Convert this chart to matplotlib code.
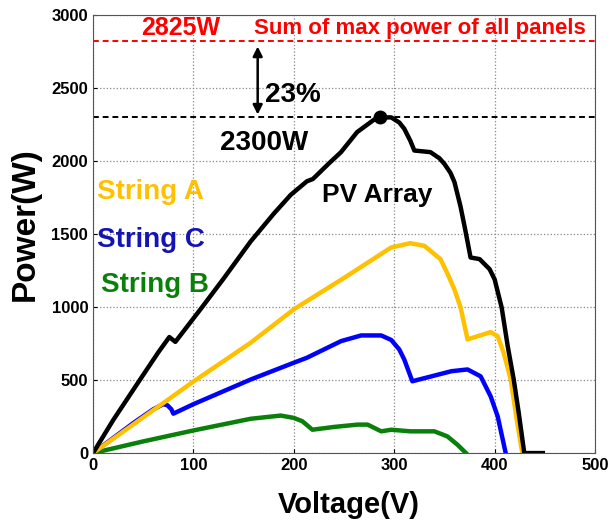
import numpy as np
import matplotlib
matplotlib.use("Agg")
import matplotlib.pyplot as plt

plt.rcParams['font.family'] = ['Liberation Sans Narrow', 'Liberation Sans', 'DejaVu Sans']
plt.rcParams['font.weight'] = 'bold'

# P-V curves
v_array = [0, 20, 47, 65, 76, 82, 107, 130, 157, 180, 197, 213, 219, 235, 247, 263,
           280, 286, 297, 305, 310, 316, 320, 336, 345, 350, 356, 360, 366, 371, 376,
           385, 395, 400, 407, 413, 419, 424, 429.5, 448]
p_array = [0, 225, 505, 690, 795, 762, 985, 1195, 1450, 1640, 1770, 1862, 1878, 1985, 2062, 2199,
           2285, 2300, 2300, 2265, 2222, 2140, 2073, 2062, 2020, 1981, 1920, 1856, 1690, 1520, 1340,
           1329, 1260, 1190, 997, 733, 504, 275, 0, 0]

v_a = [0, 50, 100, 157, 200, 250, 297, 316, 330, 346, 353, 360, 366, 373, 385, 396, 403, 409, 416, 422, 427.5]
p_a = [0, 245, 490, 756, 985, 1200, 1409, 1438, 1420, 1329, 1230, 1120, 1000, 779, 805, 829, 801, 687, 504, 229, 0]

v_c = [0, 40, 60, 70, 74, 78, 80, 100, 157, 200, 213, 247, 267, 287, 297, 305, 310, 318,
       357, 373, 386, 396, 403, 411]
p_c = [0, 205, 300, 335, 328, 300, 270, 335, 504, 619, 653, 767, 806, 806, 775, 710, 641, 492,
       561, 573, 526, 389, 252, 0]

v_b = [0, 50, 100, 157, 187, 200, 208.5, 218.5, 240, 263.5, 273.5, 287, 297, 316, 340, 353, 363, 371.4]
p_b = [0, 80, 155, 235, 257, 241, 218, 160, 179, 195, 195, 149, 160, 149, 149, 114, 57, 0]

p_sum = 2825   # sum of panel ratings
p_mpp = 2300   # array maximum
v_mpp = 286
loss_pct = 23

fig = plt.figure(figsize=(6.16, 5.25), dpi=100)
ax = fig.add_axes([0.151, 0.137, 0.815, 0.834])

ax.grid(True, linestyle=':', color='#888888', linewidth=0.9)
ax.set_axisbelow(True)

ax.plot(v_b, p_b, color='#0a800a', lw=3.2, solid_joinstyle='round')
ax.plot(v_c, p_c, color='#0000ff', lw=3.2, solid_joinstyle='round')
ax.plot(v_a, p_a, color='#ffc000', lw=3.2, solid_joinstyle='round')
ax.plot(v_array, p_array, color='black', lw=3.2, solid_joinstyle='round')
ax.plot([v_mpp], [p_mpp], 'o', color='black', ms=9)

ax.axhline(p_sum, color='red', ls='--', lw=1.4, dashes=(3, 2))
ax.axhline(p_mpp, color='black', ls='--', lw=1.4, dashes=(3, 2))
ax.annotate('', xy=(164, p_mpp), xytext=(164, p_sum - 20),
            arrowprops=dict(arrowstyle='<|-|>', color='black', lw=1.8, mutation_scale=14))

ax.text(171, 2450, f'{loss_pct}%', fontsize=20, va='center', ha='left')
ax.text(126, 2125, f'{p_mpp}W', fontsize=20, va='center', ha='left')
ax.text(48, 2910, f'{p_sum}W', fontsize=18, color='red', va='center', ha='left')
ax.text(160, 2910, 'Sum of max power of all panels', fontsize=16, color='red', va='center', ha='left')
ax.text(228, 1767, 'PV Array', fontsize=19, va='center', ha='left')
ax.text(4, 1790, 'String A', fontsize=20, color='#ffc000', va='center', ha='left')
ax.text(4, 1460, 'String C', fontsize=20, color='#1414b4', va='center', ha='left')
ax.text(8, 1150, 'String B', fontsize=20, color='#0a800a', va='center', ha='left')

ax.set_xlim(0, 500)
ax.set_ylim(0, 3000)
ax.set_xticks(np.arange(0, 501, 100))
ax.set_yticks(np.arange(0, 3001, 500))
ax.tick_params(direction='in', labelsize=12, length=3)
for lab in ax.get_xticklabels() + ax.get_yticklabels():
    lab.set_fontweight('bold')
for s in ax.spines.values():
    s.set_color('#555555')
    s.set_linewidth(0.8)

ax.set_xlabel('Voltage(V)', fontsize=21, fontweight='bold', va='center')
ax.xaxis.set_label_coords(0.509, -0.119)
ax.set_ylabel('Power(W)', fontsize=24, fontweight='bold', va='center')
ax.yaxis.set_label_coords(-0.135, 0.522)

fig.savefig('out.png', dpi=100)
